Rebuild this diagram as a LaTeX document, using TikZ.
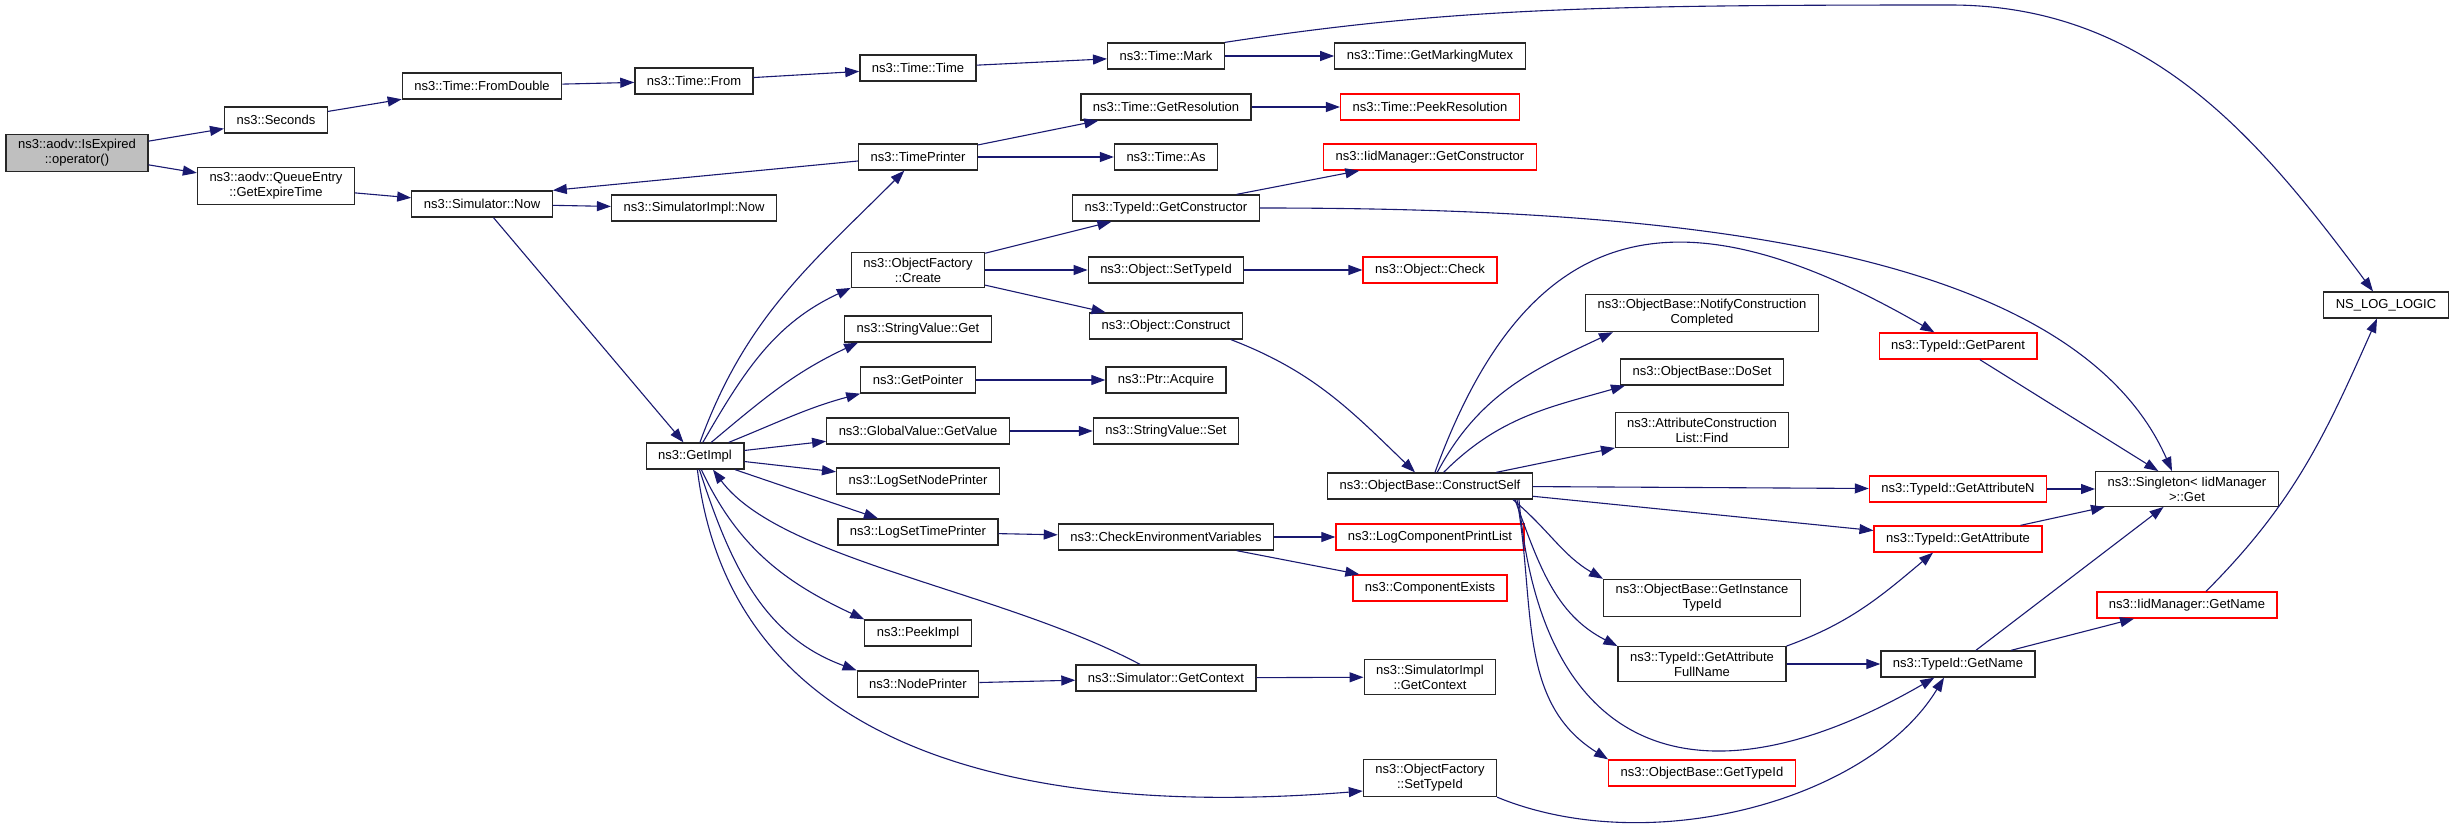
\documentclass[tikz,border=0pt]{standalone}
\usepackage{fontspec}
\setmainfont{Liberation Sans}
\usetikzlibrary{arrows.meta}
\definecolor{edgeblue}{HTML}{191970}
\definecolor{boxred}{HTML}{FF0000}
\definecolor{rootgray}{HTML}{BFBFBF}

\begin{document}
\begin{tikzpicture}[x=1pt,y=1pt]
   \useasboundingbox (0,0) rectangle (2453,-829);
   \begin{scope}[every node/.style={rectangle,draw=black!85,fill=white,line width=1.3pt,inner xsep=12pt,inner ysep=5pt,minimum height=26pt,align=center,font=\fontsize{13}{15}\selectfont},
                 redbox/.style={draw=boxred},rootbox/.style={fill=rootgray}]
    \node (isexp) at (77,-153) [rootbox] {ns3::aodv::IsExpired\\::operator()};
    \node (secs) at (276,-120) {ns3::Seconds};
    \node (expire) at (276,-186) {ns3::aodv::QueueEntry\\::GetExpireTime};
    \node (fromdbl) at (482,-86) {ns3::Time::FromDouble};
    \node (simnow) at (482,-204) {ns3::Simulator::Now};
    \node (tfrom) at (694,-81) {ns3::Time::From};
    \node (simimplnow) at (694,-208) {ns3::SimulatorImpl::Now};
    \node (getimpl) at (695,-456) {ns3::GetImpl};
    \node (ttime) at (918,-68) {ns3::Time::Time};
    \node (tprinter) at (918,-157) {ns3::TimePrinter};
    \node (create) at (918,-270) {ns3::ObjectFactory\\::Create};
    \node (svget) at (918,-329) {ns3::StringValue::Get};
    \node (getptr) at (918,-380) {ns3::GetPointer};
    \node (gvget) at (918,-431) {ns3::GlobalValue::GetValue};
    \node (lsnp) at (918,-481) {ns3::LogSetNodePrinter};
    \node (lstp) at (918,-532) {ns3::LogSetTimePrinter};
    \node (peekimpl) at (918,-633) {ns3::PeekImpl};
    \node (nodeprn) at (918,-684) {ns3::NodePrinter};
    \node (mark) at (1166,-56) {ns3::Time::Mark};
    \node (getres) at (1166,-107) {ns3::Time::GetResolution};
    \node (tas) at (1166,-157) {ns3::Time::As};
    \node (getctor) at (1166,-208) {ns3::TypeId::GetConstructor};
    \node (objsettid) at (1166,-270) {ns3::Object::SetTypeId};
    \node (objconstr) at (1166,-326) {ns3::Object::Construct};
    \node (acquire) at (1166,-380) {ns3::Ptr::Acquire};
    \node (svset) at (1166,-431) {ns3::StringValue::Set};
    \node (checkenv) at (1166,-537) {ns3::CheckEnvironmentVariables};
    \node (simctx) at (1166,-678) {ns3::Simulator::GetContext};
    \node (mutex) at (1430,-56) {ns3::Time::GetMarkingMutex};
    \node (peekres) at (1430,-107) [redbox] {ns3::Time::PeekResolution};
    \node (iidctor) at (1430,-157) [redbox] {ns3::IidManager::GetConstructor};
    \node (objcheck) at (1430,-270) [redbox] {ns3::Object::Check};
    \node (cself) at (1430,-486) {ns3::ObjectBase::ConstructSelf};
    \node (logcpl) at (1430,-537) [redbox] {ns3::LogComponentPrintList};
    \node (compex) at (1430,-588) [redbox] {ns3::ComponentExists};
    \node (simimplctx) at (1430,-677) {ns3::SimulatorImpl\\::GetContext};
    \node (factsettid) at (1430,-778) {ns3::ObjectFactory\\::SetTypeId};
    \node (notify) at (1702,-313) {ns3::ObjectBase::NotifyConstruction\\Completed};
    \node (doset) at (1702,-372) {ns3::ObjectBase::DoSet};
    \node (find) at (1702,-430) {ns3::AttributeConstruction\\List::Find};
    \node (instid) at (1702,-598) {ns3::ObjectBase::GetInstance\\TypeId};
    \node (fullname) at (1702,-664) {ns3::TypeId::GetAttribute\\FullName};
    \node (obtid) at (1702,-773) [redbox] {ns3::ObjectBase::GetTypeId};
    \node (parent) at (1958,-346) [redbox] {ns3::TypeId::GetParent};
    \node (attrn) at (1958,-489) [redbox] {ns3::TypeId::GetAttributeN};
    \node (attr) at (1958,-539) [redbox] {ns3::TypeId::GetAttribute};
    \node (tidname) at (1958,-664) {ns3::TypeId::GetName};
    \node (singleton) at (2187,-489) {ns3::Singleton< IidManager\\>::Get};
    \node (iidname) at (2187,-605) [redbox] {ns3::IidManager::GetName};
    \node (nslog) at (2386,-305) {NS\_LOG\_LOGIC};
   \end{scope}
   \begin{scope}[calledge/.style={draw=edgeblue,line width=1.1pt,-{Triangle[length=14pt,width=10pt]}},
                 every edge/.style={calledge}]
    \draw (isexp) edge (secs);
    \draw (isexp) edge (expire);
    \draw (secs) edge (fromdbl);
    \draw (fromdbl) edge (tfrom);
    \draw (tfrom) edge (ttime);
    \draw (ttime) edge (mark);
    \draw (mark) edge (mutex);
    \draw[calledge] (mark.north east) .. controls (1450,-8) and (1600,-5) .. (1950,-5)
                    .. controls (2150,-5) and (2260,-140) .. ([xshift=-13]nslog.north);
    \draw (expire) edge (simnow);
    \draw (simnow) edge (simimplnow);
    \draw (simnow) edge (getimpl);
    \draw ([yshift=-4]tprinter.west) edge (simnow.north east);
    \draw (tprinter) edge (getres);
    \draw (tprinter) edge (tas);
    \draw (getres) edge (peekres);
    % calls made from GetImpl
    \draw (getimpl) edge[out=70,in=-135] (tprinter);
    \draw (getimpl) edge[out=60,in=-155] (create.south west);
    \draw (getimpl) edge[out=40,in=-155] ([xshift=14]svget.south west);
    \draw (getimpl) edge[out=22,in=-165] (getptr.south west);
    \draw (getimpl) edge (gvget);
    \draw (getimpl) edge (lsnp);
    \draw (getimpl) edge (lstp);
    \draw (getimpl) edge[out=-65,in=155] (peekimpl.north west);
    \draw (getimpl) edge[out=-72,in=160] (nodeprn.north west);
    \draw[calledge] (getimpl.-80) .. controls (730,-740) and (1000,-820) .. ([yshift=-13]factsettid.west);
    \draw[calledge] ([xshift=-26]simctx.north) .. controls (1000,-590) and (780,-560) .. ([xshift=18]getimpl.south);
    \draw (create) edge (getctor);
    \draw (create) edge (objsettid);
    \draw (create) edge (objconstr);
    \draw (getctor) edge (iidctor);
    \draw[calledge] (getctor.east) .. controls (1650,-208) and (2070,-240) .. ([xshift=-15]singleton.north);
    \draw (objsettid) edge (objcheck);
    \draw ([xshift=-12]objconstr.south east) edge[out=-21,in=136] ([xshift=-15]cself.north);
    \draw (getptr) edge (acquire);
    \draw (gvget) edge (svset);
    \draw (lstp) edge (checkenv);
    \draw (checkenv) edge (logcpl);
    \draw (checkenv) edge (compex);
    \draw (nodeprn) edge (simctx);
    \draw (simctx) edge (simimplctx);
    \draw[calledge] (factsettid.south east) .. controls (1650,-860) and (1870,-800) .. ([xshift=-14]tidname.south);
    % calls made from ConstructSelf
    \draw (cself) edge[out=70,in=150,looseness=1.4] (parent);
    \draw (cself) edge[out=62,in=-155] ([xshift=28]notify.south west);
    \draw (cself) edge[out=45,in=-164] ([xshift=5]doset.south west);
    \draw (cself) edge (find);
    \draw (cself) edge (attrn);
    \draw (cself) edge (attr);
    \draw ([xshift=-20]cself.south east) edge[out=-40,in=150] (instid.north west);
    \draw ([xshift=-18]cself.south east) edge[out=-70,in=153] (fullname.north west);
    \draw ([xshift=-14]cself.south east) edge[out=-85,in=-150,looseness=1.5] (tidname.-150);
    \draw ([xshift=-16]cself.south east) edge[out=-80,in=148] (obtid.north west);
    \draw (parent) edge (singleton);
    \draw (attrn) edge (singleton);
    \draw (attr) edge (singleton);
    \draw (tidname) edge (singleton);
    \draw (tidname) edge (iidname);
    \draw ([xshift=19]iidname.north) edge[out=45,in=-114] ([xshift=-9]nslog.south);
    \draw (fullname.north east) edge[out=20,in=-140] ([xshift=-25]attr.south);
    \draw (fullname) edge (tidname);
   \end{scope}
\end{tikzpicture}
\end{document}
